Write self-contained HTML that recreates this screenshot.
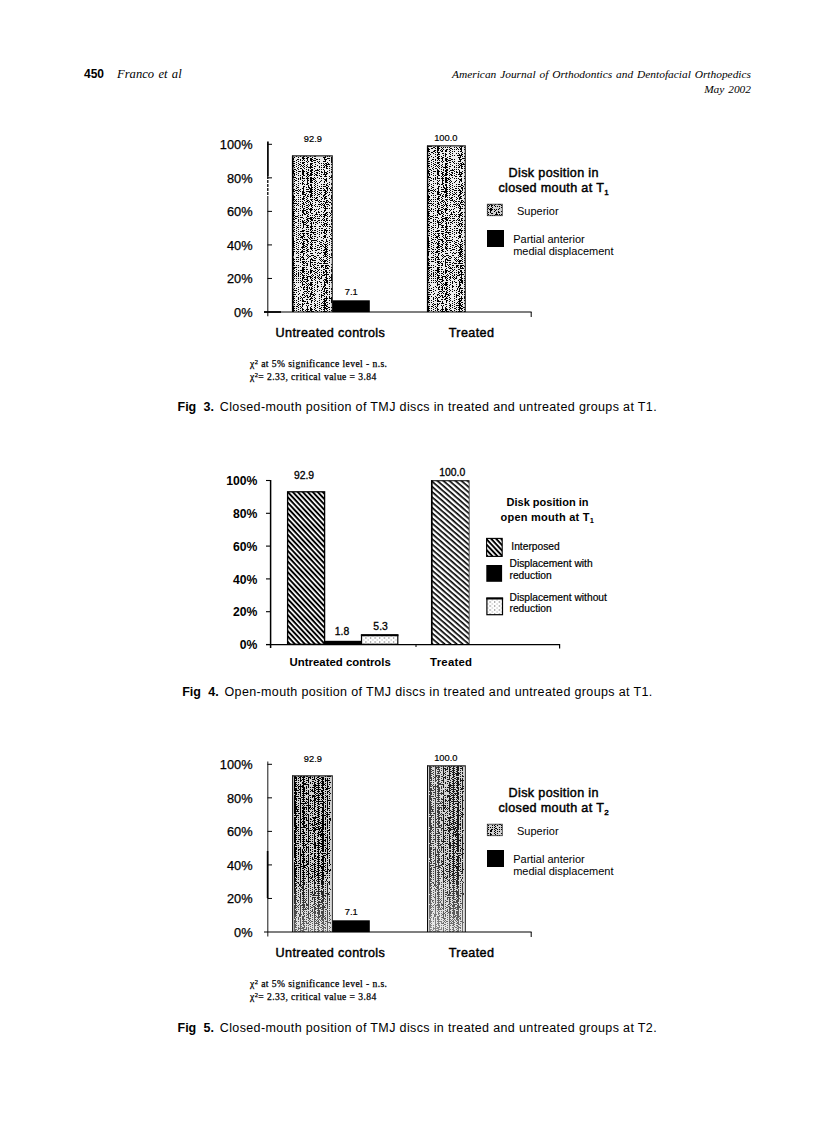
<!DOCTYPE html>
<html><head><meta charset="utf-8"><title>page 450</title>
<style>
html,body{margin:0;padding:0;background:#fff;}
body{width:836px;height:1122px;position:relative;overflow:hidden;font-family:"Liberation Sans",sans-serif;color:#000;}
.t{position:absolute;white-space:nowrap;line-height:16px;}
.hd{font-family:"Liberation Serif",serif;font-style:italic;font-size:11.4px;word-spacing:1.0px;}
.cap{font-size:12.5px;letter-spacing:0.36px;word-spacing:0px;}
.cap b{font-weight:bold;letter-spacing:0;word-spacing:3.8px;margin-right:5.9px;}
svg{position:absolute;left:0;top:0;}
svg text{font-family:"Liberation Sans",sans-serif;fill:#000;}
.ax{font-size:12.8px;stroke:#000;stroke-width:0.25px;}
.val{font-size:9.3px;stroke:#000;stroke-width:0.2px;}
.cat{font-size:12.6px;letter-spacing:0.37px;stroke:#000;stroke-width:0.45px;}
.lt{font-size:12.6px;letter-spacing:0.35px;stroke:#000;stroke-width:0.45px;}
.li{font-size:11px;}
.fn{font-family:"Liberation Serif",serif;font-size:9.6px;letter-spacing:0.42px;stroke:#000;stroke-width:0.25px;}
.ax2{font-size:12.2px;font-weight:bold;}
.val2{font-size:10.4px;stroke:#000;stroke-width:0.3px;}
.cat2{font-size:11.4px;font-weight:bold;}
.lt2{font-size:11px;font-weight:bold;}
.li2{font-size:10.25px;stroke:#000;stroke-width:0.2px;}
</style></head>
<body>
<div class="t" style="left:84px;top:66px;font-weight:bold;font-size:12px;">450</div>
<div class="t hd" style="left:117px;top:66px;font-size:12.6px;word-spacing:1.2px;">Franco et al</div>
<div class="t hd" style="right:85px;top:66px;">American Journal of Orthodontics and Dentofacial Orthopedics</div>
<div class="t hd" style="right:85px;top:81px;">May 2002</div>

<svg width="836" height="1122" viewBox="0 0 836 1122">
<defs>
<pattern id="hatch" width="3.65" height="3.65" patternUnits="userSpaceOnUse" patternTransform="rotate(47)">
<rect x="0" y="0" width="3.65" height="1.95" fill="#000"/>
</pattern>
<pattern id="hatch2" width="3.95" height="3.95" patternUnits="userSpaceOnUse" patternTransform="rotate(41)">
<rect x="0" y="0" width="3.95" height="1.65" fill="#000"/>
</pattern>
<pattern id="dots" x="1" y="0.5" width="4.6" height="4" patternUnits="userSpaceOnUse">
<rect x="1" y="1" width="1.1" height="1" fill="#444"/><rect x="3.3" y="3" width="1" height="1" fill="#999"/>
</pattern>
<pattern id="st3" width="45" height="170" patternUnits="userSpaceOnUse"><rect width="45" height="170" fill="#000" fill-opacity="0.07"/><path d="M0.5 0v1M0.5 4v1M0.5 8v1M0.5 10v1M0.5 12v1M0.5 14v1M0.5 16v1M0.5 18v1M0.5 20v1M0.5 22v1M0.5 24v1M0.5 28v1M0.5 30v1M0.5 32v1M0.5 34v1M0.5 36v1M0.5 40v1M0.5 44v1M0.5 46v1M0.5 48v1M0.5 50v1M0.5 52v1M0.5 54v1M0.5 56v1M0.5 58v1M0.5 60v1M0.5 62v1M0.5 64v1M0.5 66v1M0.5 70v1M0.5 72v1M0.5 74v1M0.5 76v1M0.5 78v1M0.5 80v1M0.5 82v1M0.5 86v1M0.5 88v1M0.5 90v1M0.5 92v1M0.5 94v1M0.5 97v2M0.5 100v1M0.5 102v1M0.5 104v1M0.5 106v3M0.5 110v1M0.5 112v1M0.5 114v1M0.5 120v1M0.5 124v1M0.5 128v1M0.5 130v1M0.5 134v3M0.5 138v1M0.5 140v1M0.5 144v1M0.5 146v1M0.5 148v1M0.5 150v1M0.5 152v1M0.5 154v1M0.5 156v1M0.5 158v1M0.5 160v1M0.5 162v1M0.5 164v1M0.5 166v1M1.5 0v1M1.5 2v1M1.5 4v2M1.5 11v1M1.5 27v2M1.5 30v1M1.5 39v1M1.5 42v3M1.5 52v1M1.5 70v1M1.5 80v1M1.5 87v1M1.5 98v1M1.5 102v1M1.5 140v1M1.5 148v1M1.5 159v1M2.5 0v1M2.5 2v2M2.5 5v1M2.5 7v1M2.5 13v1M2.5 15v1M2.5 17v1M2.5 19v1M2.5 21v1M2.5 23v1M2.5 25v1M2.5 27v1M2.5 29v2M2.5 36v1M2.5 44v1M2.5 46v1M2.5 48v1M2.5 51v1M2.5 53v1M2.5 59v1M2.5 61v1M2.5 63v1M2.5 67v1M2.5 69v1M2.5 71v1M2.5 75v1M2.5 77v1M2.5 79v1M2.5 83v1M2.5 85v1M2.5 93v1M2.5 95v1M2.5 97v1M2.5 99v1M2.5 101v1M2.5 103v1M2.5 105v1M2.5 107v1M2.5 111v3M2.5 115v3M2.5 119v1M2.5 121v1M2.5 131v1M2.5 133v1M2.5 135v1M2.5 137v1M2.5 141v1M2.5 143v1M2.5 145v1M2.5 149v1M2.5 151v1M2.5 153v1M2.5 155v1M2.5 159v1M2.5 161v1M2.5 165v1M2.5 169v1M3.5 0v1M3.5 19v1M3.5 24v1M3.5 31v1M3.5 34v1M3.5 39v1M3.5 41v2M3.5 48v1M3.5 50v1M3.5 75v1M3.5 79v1M3.5 82v1M3.5 85v1M3.5 92v1M3.5 95v1M3.5 100v1M3.5 106v1M3.5 108v1M3.5 116v1M3.5 162v1M4.5 1v1M4.5 3v1M4.5 5v1M4.5 8v1M4.5 12v1M4.5 16v1M4.5 20v1M4.5 22v1M4.5 24v1M4.5 26v1M4.5 30v1M4.5 32v1M4.5 34v1M4.5 36v1M4.5 38v1M4.5 42v1M4.5 44v1M4.5 46v1M4.5 48v1M4.5 50v1M4.5 52v1M4.5 56v1M4.5 58v1M4.5 60v1M4.5 62v1M4.5 64v1M4.5 66v1M4.5 71v1M4.5 73v1M4.5 77v1M4.5 79v1M4.5 83v1M4.5 87v1M4.5 89v1M4.5 93v1M4.5 97v1M4.5 99v1M4.5 102v1M4.5 104v2M4.5 107v1M4.5 109v1M4.5 111v1M4.5 120v1M4.5 124v1M4.5 126v1M4.5 128v1M4.5 130v1M4.5 132v1M4.5 134v1M4.5 136v1M4.5 138v1M4.5 140v1M4.5 142v1M4.5 144v1M4.5 147v1M4.5 149v1M4.5 151v1M4.5 155v1M4.5 159v1M4.5 161v1M4.5 163v1M4.5 166v2M4.5 169v1M5.5 6v1M5.5 11v1M5.5 18v1M5.5 20v1M5.5 23v1M5.5 31v1M5.5 34v1M5.5 45v1M5.5 56v1M5.5 72v1M5.5 74v1M5.5 76v1M5.5 83v1M5.5 88v1M5.5 90v1M5.5 93v1M5.5 108v1M5.5 112v1M5.5 138v1M5.5 144v1M6.5 1v2M6.5 4v1M6.5 6v1M6.5 8v1M6.5 10v1M6.5 14v1M6.5 16v1M6.5 18v1M6.5 20v1M6.5 22v1M6.5 24v1M6.5 27v1M6.5 29v1M6.5 31v1M6.5 33v1M6.5 35v1M6.5 37v1M6.5 41v1M6.5 44v1M6.5 46v1M6.5 50v1M6.5 52v1M6.5 54v1M6.5 58v1M6.5 60v1M6.5 62v2M6.5 67v1M6.5 70v1M6.5 72v1M6.5 74v1M6.5 76v1M6.5 78v1M6.5 80v1M6.5 82v1M6.5 87v1M6.5 89v1M6.5 91v1M6.5 93v1M6.5 95v3M6.5 100v1M6.5 102v1M6.5 104v1M6.5 106v3M6.5 112v1M6.5 114v1M6.5 116v1M6.5 120v1M6.5 122v1M6.5 124v4M6.5 129v1M6.5 133v1M6.5 135v1M6.5 137v1M6.5 139v1M6.5 141v1M6.5 143v1M6.5 145v1M6.5 147v1M6.5 149v1M6.5 153v1M6.5 163v1M6.5 165v1M6.5 167v1M6.5 169v1M7.5 2v1M7.5 28v1M7.5 34v1M7.5 49v1M7.5 55v1M7.5 58v1M7.5 60v1M7.5 70v1M7.5 75v1M7.5 90v1M7.5 95v2M7.5 105v1M7.5 118v2M7.5 125v1M7.5 132v1M7.5 135v1M7.5 143v1M7.5 148v1M7.5 155v1M8.5 4v1M8.5 8v1M8.5 14v1M8.5 16v1M8.5 18v1M8.5 20v1M8.5 25v2M8.5 31v1M8.5 33v1M8.5 35v1M8.5 37v1M8.5 42v1M8.5 44v1M8.5 46v1M8.5 48v1M8.5 50v1M8.5 52v1M8.5 54v1M8.5 56v1M8.5 62v1M8.5 66v1M8.5 68v1M8.5 71v1M8.5 73v1M8.5 76v1M8.5 80v1M8.5 82v1M8.5 85v1M8.5 87v1M8.5 89v1M8.5 91v1M8.5 93v1M8.5 95v1M8.5 97v1M8.5 99v1M8.5 101v3M8.5 105v1M8.5 110v1M8.5 116v2M8.5 121v1M8.5 123v1M8.5 125v1M8.5 129v1M8.5 131v1M8.5 133v1M8.5 135v1M8.5 137v1M8.5 139v1M8.5 141v1M8.5 145v1M8.5 149v1M8.5 151v1M8.5 153v1M8.5 155v1M8.5 157v1M8.5 161v1M8.5 163v1M8.5 165v1M8.5 167v1M8.5 169v1M9.5 0v5M9.5 6v1M9.5 9v1M9.5 11v2M9.5 14v1M9.5 16v1M9.5 19v2M9.5 22v1M9.5 24v2M9.5 27v3M9.5 31v1M9.5 34v3M9.5 38v1M9.5 40v2M9.5 44v4M9.5 49v2M9.5 53v3M9.5 59v5M9.5 65v3M9.5 74v1M9.5 77v1M9.5 79v2M9.5 82v3M9.5 86v1M9.5 90v4M9.5 99v1M9.5 102v1M9.5 104v2M9.5 109v1M9.5 111v6M9.5 118v4M9.5 123v2M9.5 126v1M9.5 128v15M9.5 144v1M9.5 147v1M9.5 154v2M9.5 157v3M9.5 161v1M9.5 164v1M9.5 166v2M10.5 2v1M10.5 4v3M10.5 9v2M10.5 16v1M10.5 20v5M10.5 26v3M10.5 32v2M10.5 36v5M10.5 43v3M10.5 51v1M10.5 53v1M10.5 56v1M10.5 59v2M10.5 63v1M10.5 65v3M10.5 72v1M10.5 74v6M10.5 81v6M10.5 90v2M10.5 93v1M10.5 95v4M10.5 100v2M10.5 104v1M10.5 107v1M10.5 109v2M10.5 112v1M10.5 114v2M10.5 117v2M10.5 122v1M10.5 128v1M10.5 130v2M10.5 133v3M10.5 137v2M10.5 141v3M10.5 146v1M10.5 148v2M10.5 151v1M10.5 155v3M10.5 159v3M10.5 163v1M10.5 165v1M11.5 2v3M11.5 6v1M11.5 8v4M11.5 14v2M11.5 17v2M11.5 21v1M11.5 23v1M11.5 26v1M11.5 28v1M11.5 30v3M11.5 34v1M11.5 38v1M11.5 42v2M11.5 45v1M11.5 48v3M11.5 53v3M11.5 58v1M11.5 60v3M11.5 64v1M11.5 69v3M11.5 74v1M11.5 76v1M11.5 78v5M11.5 84v1M11.5 86v1M11.5 88v1M11.5 90v1M11.5 93v1M11.5 95v2M11.5 98v1M11.5 100v13M11.5 118v1M11.5 120v4M11.5 126v5M11.5 132v1M11.5 135v2M11.5 138v2M11.5 141v2M11.5 144v1M11.5 146v6M11.5 153v3M11.5 159v1M11.5 163v6M12.5 1v1M12.5 3v1M12.5 13v1M12.5 15v1M12.5 17v4M12.5 22v1M12.5 30v1M12.5 32v1M12.5 34v1M12.5 36v1M12.5 38v1M12.5 42v1M12.5 44v1M12.5 46v1M12.5 48v1M12.5 50v1M12.5 52v1M12.5 54v1M12.5 56v1M12.5 60v1M12.5 67v1M12.5 71v1M12.5 73v1M12.5 75v1M12.5 77v1M12.5 79v1M12.5 81v1M12.5 83v1M12.5 85v1M12.5 87v1M12.5 89v1M12.5 91v1M12.5 93v1M12.5 95v1M12.5 97v2M12.5 102v1M12.5 104v1M12.5 108v1M12.5 110v4M12.5 118v1M12.5 120v1M12.5 122v1M12.5 124v1M12.5 128v1M12.5 132v1M12.5 134v1M12.5 136v1M12.5 138v1M12.5 140v1M12.5 142v1M12.5 144v1M12.5 146v1M12.5 152v1M12.5 154v1M12.5 156v1M12.5 158v1M12.5 162v1M12.5 164v1M12.5 166v1M12.5 168v1M13.5 16v1M13.5 25v1M13.5 31v1M13.5 34v1M13.5 95v1M13.5 98v1M13.5 104v1M13.5 137v1M13.5 142v1M13.5 158v1M13.5 163v2M14.5 0v1M14.5 2v1M14.5 6v1M14.5 8v1M14.5 12v1M14.5 14v1M14.5 18v1M14.5 22v1M14.5 24v1M14.5 28v1M14.5 32v1M14.5 35v1M14.5 38v1M14.5 42v1M14.5 46v1M14.5 50v1M14.5 54v1M14.5 56v1M14.5 58v1M14.5 60v1M14.5 62v1M14.5 66v1M14.5 70v1M14.5 72v1M14.5 74v1M14.5 80v1M14.5 84v1M14.5 86v1M14.5 88v1M14.5 90v1M14.5 92v1M14.5 96v1M14.5 100v1M14.5 102v1M14.5 106v1M14.5 108v1M14.5 110v1M14.5 112v1M14.5 114v1M14.5 116v1M14.5 118v1M14.5 121v2M14.5 124v1M14.5 126v3M14.5 130v1M14.5 133v1M14.5 137v1M14.5 139v1M14.5 141v1M14.5 143v1M14.5 145v1M14.5 147v1M14.5 149v1M14.5 153v1M14.5 156v1M14.5 158v1M14.5 160v1M14.5 164v1M14.5 166v1M14.5 168v1M15.5 7v1M15.5 19v2M15.5 29v1M15.5 32v1M15.5 43v1M15.5 45v1M15.5 56v1M15.5 64v1M15.5 68v1M15.5 87v1M15.5 107v1M15.5 110v1M15.5 128v1M15.5 144v1M15.5 152v1M15.5 154v1M16.5 1v2M16.5 5v3M16.5 9v1M16.5 13v2M16.5 17v2M16.5 20v1M16.5 22v1M16.5 25v4M16.5 30v1M16.5 33v2M16.5 37v2M16.5 40v3M16.5 44v1M16.5 47v1M16.5 49v3M16.5 53v2M16.5 57v1M16.5 59v3M16.5 63v1M16.5 65v1M16.5 68v2M16.5 71v1M16.5 73v1M16.5 75v1M16.5 77v1M16.5 79v2M16.5 83v3M16.5 87v1M16.5 94v1M16.5 97v1M16.5 99v3M16.5 104v7M16.5 112v1M16.5 118v2M16.5 121v1M16.5 123v1M16.5 127v6M16.5 137v1M16.5 140v1M16.5 142v2M16.5 149v3M16.5 153v3M16.5 157v6M16.5 164v1M16.5 167v1M16.5 169v1M17.5 2v1M17.5 5v1M17.5 31v1M17.5 35v1M17.5 41v1M17.5 67v2M17.5 78v1M17.5 107v1M17.5 121v1M17.5 134v1M17.5 149v1M17.5 154v3M17.5 159v1M18.5 1v1M18.5 3v1M18.5 8v1M18.5 10v1M18.5 12v1M18.5 14v1M18.5 16v2M18.5 19v1M18.5 21v1M18.5 23v1M18.5 25v1M18.5 27v1M18.5 29v1M18.5 33v1M18.5 37v1M18.5 39v1M18.5 41v1M18.5 45v1M18.5 47v1M18.5 49v1M18.5 51v1M18.5 53v1M18.5 55v1M18.5 57v1M18.5 61v1M18.5 63v1M18.5 66v1M18.5 68v1M18.5 70v1M18.5 72v1M18.5 74v1M18.5 76v1M18.5 78v1M18.5 80v1M18.5 82v1M18.5 84v1M18.5 86v1M18.5 88v1M18.5 90v1M18.5 92v1M18.5 94v1M18.5 98v1M18.5 100v1M18.5 102v1M18.5 104v1M18.5 106v1M18.5 108v1M18.5 110v1M18.5 112v1M18.5 116v1M18.5 118v1M18.5 122v1M18.5 124v1M18.5 126v1M18.5 128v1M18.5 130v1M18.5 135v1M18.5 137v1M18.5 139v1M18.5 141v1M18.5 143v1M18.5 145v1M18.5 149v1M18.5 151v1M18.5 153v1M18.5 157v1M18.5 159v1M18.5 161v1M18.5 163v1M18.5 165v1M18.5 167v1M18.5 169v1M19.5 10v1M19.5 32v1M19.5 36v1M19.5 39v1M19.5 53v1M19.5 89v1M19.5 104v1M19.5 138v1M19.5 163v1M20.5 0v2M20.5 5v1M20.5 9v1M20.5 16v1M20.5 18v1M20.5 20v1M20.5 22v1M20.5 24v1M20.5 26v1M20.5 30v1M20.5 32v1M20.5 34v3M20.5 38v1M20.5 40v1M20.5 42v1M20.5 44v1M20.5 48v1M20.5 51v1M20.5 57v1M20.5 59v1M20.5 62v2M20.5 68v1M20.5 70v1M20.5 72v1M20.5 74v1M20.5 82v1M20.5 85v1M20.5 87v1M20.5 89v2M20.5 94v1M20.5 96v1M20.5 100v1M20.5 102v1M20.5 104v1M20.5 106v1M20.5 110v1M20.5 112v1M20.5 114v1M20.5 118v1M20.5 120v1M20.5 122v1M20.5 124v1M20.5 126v1M20.5 128v2M20.5 131v1M20.5 133v1M20.5 135v1M20.5 140v1M20.5 142v1M20.5 146v1M20.5 148v1M20.5 151v2M20.5 155v1M20.5 162v3M20.5 168v1M21.5 7v1M21.5 10v1M21.5 14v1M21.5 28v1M21.5 44v1M21.5 79v1M21.5 89v1M21.5 93v1M21.5 98v1M21.5 121v1M21.5 130v1M21.5 139v1M21.5 142v1M21.5 154v1M22.5 1v2M22.5 5v1M22.5 7v1M22.5 11v1M22.5 13v1M22.5 15v1M22.5 19v1M22.5 21v1M22.5 23v1M22.5 25v1M22.5 27v1M22.5 31v1M22.5 33v1M22.5 35v1M22.5 37v1M22.5 39v1M22.5 41v1M22.5 43v1M22.5 45v1M22.5 49v2M22.5 52v1M22.5 54v1M22.5 56v1M22.5 58v1M22.5 62v1M22.5 64v1M22.5 80v1M22.5 84v1M22.5 86v1M22.5 88v1M22.5 90v1M22.5 94v1M22.5 100v1M22.5 102v1M22.5 104v1M22.5 108v1M22.5 110v1M22.5 112v1M22.5 114v1M22.5 116v2M22.5 119v1M22.5 121v1M22.5 125v1M22.5 129v1M22.5 131v1M22.5 133v1M22.5 135v1M22.5 137v1M22.5 139v1M22.5 141v1M22.5 145v1M22.5 147v1M22.5 149v1M22.5 151v1M22.5 157v1M22.5 163v1M22.5 165v1M23.5 0v4M23.5 6v2M23.5 14v1M23.5 16v1M23.5 19v3M23.5 25v6M23.5 32v2M23.5 36v1M23.5 39v1M23.5 41v6M23.5 48v2M23.5 51v1M23.5 54v2M23.5 57v1M23.5 60v2M23.5 65v1M23.5 67v11M23.5 79v1M23.5 81v5M23.5 88v3M23.5 92v4M23.5 97v3M23.5 101v1M23.5 103v1M23.5 105v1M23.5 107v1M23.5 109v2M23.5 112v1M23.5 119v1M23.5 122v1M23.5 124v1M23.5 126v4M23.5 131v2M23.5 136v6M23.5 143v2M23.5 146v1M23.5 148v4M23.5 155v1M23.5 158v2M23.5 161v1M23.5 163v1M23.5 165v2M24.5 1v1M24.5 3v3M24.5 7v1M24.5 9v1M24.5 11v1M24.5 13v1M24.5 15v1M24.5 19v1M24.5 21v1M24.5 23v1M24.5 26v2M24.5 29v1M24.5 31v1M24.5 33v1M24.5 35v1M24.5 37v1M24.5 39v1M24.5 41v1M24.5 43v1M24.5 45v1M24.5 47v1M24.5 49v1M24.5 51v1M24.5 53v1M24.5 55v1M24.5 57v1M24.5 59v1M24.5 61v1M24.5 63v1M24.5 65v1M24.5 71v1M24.5 73v1M24.5 75v1M24.5 77v1M24.5 79v1M24.5 81v1M24.5 89v1M24.5 91v1M24.5 93v1M24.5 95v1M24.5 97v2M24.5 100v1M24.5 102v1M24.5 104v1M24.5 106v1M24.5 108v1M24.5 112v1M24.5 114v1M24.5 116v1M24.5 118v1M24.5 120v1M24.5 122v1M24.5 124v1M24.5 126v1M24.5 128v1M24.5 130v1M24.5 132v1M24.5 134v1M24.5 136v1M24.5 138v1M24.5 140v1M24.5 144v1M24.5 146v1M24.5 149v1M24.5 151v1M24.5 153v1M24.5 155v1M24.5 157v1M24.5 161v1M24.5 163v1M24.5 165v1M24.5 167v1M24.5 169v1M25.5 7v1M25.5 10v1M25.5 20v1M25.5 30v1M25.5 33v1M25.5 40v1M25.5 46v1M25.5 48v1M25.5 52v1M25.5 97v1M25.5 105v1M25.5 115v1M25.5 120v1M25.5 124v1M25.5 146v1M25.5 154v1M25.5 169v1M26.5 0v1M26.5 2v1M26.5 4v1M26.5 8v1M26.5 10v1M26.5 14v1M26.5 16v1M26.5 18v1M26.5 20v1M26.5 22v1M26.5 25v1M26.5 29v1M26.5 31v1M26.5 33v1M26.5 35v1M26.5 38v2M26.5 41v1M26.5 46v1M26.5 48v1M26.5 52v1M26.5 56v1M26.5 58v1M26.5 60v1M26.5 62v1M26.5 64v1M26.5 66v1M26.5 68v1M26.5 70v1M26.5 72v1M26.5 74v1M26.5 76v1M26.5 78v1M26.5 81v1M26.5 83v1M26.5 87v1M26.5 89v1M26.5 91v1M26.5 95v1M26.5 97v1M26.5 99v1M26.5 101v1M26.5 103v2M26.5 106v1M26.5 108v1M26.5 110v1M26.5 112v1M26.5 118v1M26.5 120v1M26.5 122v1M26.5 126v1M26.5 130v1M26.5 132v1M26.5 136v1M26.5 138v1M26.5 140v1M26.5 144v1M26.5 146v1M26.5 148v1M26.5 152v1M26.5 156v1M26.5 160v1M26.5 162v1M26.5 164v1M26.5 166v1M27.5 17v1M27.5 20v1M27.5 23v1M27.5 34v1M27.5 46v1M27.5 57v1M27.5 69v1M27.5 72v1M27.5 79v1M27.5 82v1M27.5 87v1M27.5 91v1M27.5 134v1M27.5 136v1M27.5 148v1M27.5 152v1M27.5 159v1M27.5 168v1M28.5 1v1M28.5 3v1M28.5 5v1M28.5 8v2M28.5 11v1M28.5 13v1M28.5 15v1M28.5 17v1M28.5 19v1M28.5 21v1M28.5 23v1M28.5 25v1M28.5 27v1M28.5 29v1M28.5 31v1M28.5 33v1M28.5 35v1M28.5 39v1M28.5 41v1M28.5 43v1M28.5 45v1M28.5 47v1M28.5 49v3M28.5 53v1M28.5 55v1M28.5 57v1M28.5 59v1M28.5 61v1M28.5 63v1M28.5 65v1M28.5 67v1M28.5 69v1M28.5 73v1M28.5 75v1M28.5 77v1M28.5 79v1M28.5 81v1M28.5 83v1M28.5 85v1M28.5 87v1M28.5 89v1M28.5 91v1M28.5 95v1M28.5 97v1M28.5 100v1M28.5 102v5M28.5 108v1M28.5 110v1M28.5 112v1M28.5 117v1M28.5 119v1M28.5 121v1M28.5 124v1M28.5 127v3M28.5 131v1M28.5 133v1M28.5 135v1M28.5 137v1M28.5 139v1M28.5 141v1M28.5 143v1M28.5 145v1M28.5 147v1M28.5 151v1M28.5 153v1M28.5 157v1M28.5 159v1M28.5 161v1M28.5 163v1M28.5 165v1M28.5 167v1M28.5 169v1M29.5 1v1M29.5 20v1M29.5 64v1M29.5 71v1M29.5 123v1M29.5 134v1M29.5 145v1M29.5 147v1M29.5 150v2M29.5 164v1M30.5 1v1M30.5 5v1M30.5 7v3M30.5 13v1M30.5 19v1M30.5 21v1M30.5 25v1M30.5 27v1M30.5 29v1M30.5 31v1M30.5 34v1M30.5 36v1M30.5 38v1M30.5 40v1M30.5 45v1M30.5 47v1M30.5 49v1M30.5 51v1M30.5 53v1M30.5 55v1M30.5 57v1M30.5 61v1M30.5 63v1M30.5 65v1M30.5 67v1M30.5 69v1M30.5 73v1M30.5 79v1M30.5 82v1M30.5 84v1M30.5 86v1M30.5 88v3M30.5 92v1M30.5 96v1M30.5 100v1M30.5 102v1M30.5 104v1M30.5 106v1M30.5 108v1M30.5 110v1M30.5 112v1M30.5 116v1M30.5 120v1M30.5 126v1M30.5 128v1M30.5 130v1M30.5 134v1M30.5 136v1M30.5 138v1M30.5 140v1M30.5 146v1M30.5 148v1M30.5 150v1M30.5 152v1M30.5 154v1M30.5 156v1M30.5 159v2M30.5 162v1M30.5 164v1M30.5 166v1M30.5 168v1M31.5 47v1M31.5 61v1M31.5 66v2M31.5 72v1M31.5 77v1M31.5 81v2M31.5 87v1M31.5 100v1M31.5 103v1M31.5 111v1M31.5 117v1M31.5 127v1M31.5 137v1M31.5 145v1M31.5 165v1M31.5 168v1M32.5 0v5M32.5 6v3M32.5 10v1M32.5 12v3M32.5 18v1M32.5 21v4M32.5 28v2M32.5 31v1M32.5 33v1M32.5 35v3M32.5 40v3M32.5 44v2M32.5 47v1M32.5 50v3M32.5 58v1M32.5 60v2M32.5 63v1M32.5 66v3M32.5 70v1M32.5 73v2M32.5 76v3M32.5 80v3M32.5 86v2M32.5 89v1M32.5 91v2M32.5 94v1M32.5 97v6M32.5 104v2M32.5 107v4M32.5 112v4M32.5 124v2M32.5 128v4M32.5 133v4M32.5 138v3M32.5 144v9M32.5 154v2M32.5 157v2M32.5 160v1M32.5 162v2M32.5 166v1M32.5 169v1M33.5 0v6M33.5 8v1M33.5 11v1M33.5 13v1M33.5 16v9M33.5 26v4M33.5 32v3M33.5 38v6M33.5 48v1M33.5 51v7M33.5 60v2M33.5 63v4M33.5 69v1M33.5 71v7M33.5 79v1M33.5 81v1M33.5 83v3M33.5 87v3M33.5 91v3M33.5 95v1M33.5 97v6M33.5 105v4M33.5 111v1M33.5 114v1M33.5 117v3M33.5 122v1M33.5 124v1M33.5 127v1M33.5 130v2M33.5 134v1M33.5 139v1M33.5 141v2M33.5 144v1M33.5 146v5M33.5 152v3M33.5 156v4M33.5 162v2M33.5 165v1M33.5 167v1M34.5 1v1M34.5 5v1M34.5 8v1M34.5 10v1M34.5 14v1M34.5 16v1M34.5 22v1M34.5 24v1M34.5 26v1M34.5 28v1M34.5 30v1M34.5 34v1M34.5 36v1M34.5 38v1M34.5 40v1M34.5 43v2M34.5 50v1M34.5 52v1M34.5 54v1M34.5 60v1M34.5 63v1M34.5 65v1M34.5 67v1M34.5 69v1M34.5 71v1M34.5 73v1M34.5 75v1M34.5 77v1M34.5 79v1M34.5 81v1M34.5 83v1M34.5 89v1M34.5 91v1M34.5 93v1M34.5 95v1M34.5 97v1M34.5 99v1M34.5 101v1M34.5 103v1M34.5 105v1M34.5 107v1M34.5 109v1M34.5 111v1M34.5 114v1M34.5 116v2M34.5 119v1M34.5 121v1M34.5 123v1M34.5 125v1M34.5 127v1M34.5 131v1M34.5 133v1M34.5 142v1M34.5 144v1M34.5 146v1M34.5 148v1M34.5 152v1M34.5 154v1M34.5 156v1M34.5 158v1M34.5 160v1M34.5 162v1M34.5 164v1M34.5 166v1M34.5 168v1M35.5 24v2M35.5 32v1M35.5 40v1M35.5 44v1M35.5 52v1M35.5 54v1M35.5 69v1M35.5 76v1M35.5 92v1M35.5 109v1M35.5 112v1M35.5 121v1M35.5 126v1M35.5 131v1M35.5 140v1M35.5 144v1M35.5 150v1M36.5 1v1M36.5 3v1M36.5 6v1M36.5 8v1M36.5 14v1M36.5 17v1M36.5 19v1M36.5 21v1M36.5 23v1M36.5 27v1M36.5 29v1M36.5 31v1M36.5 33v1M36.5 35v1M36.5 37v1M36.5 39v1M36.5 41v3M36.5 47v1M36.5 49v1M36.5 51v1M36.5 53v1M36.5 55v1M36.5 57v1M36.5 59v1M36.5 61v1M36.5 63v1M36.5 69v2M36.5 74v1M36.5 76v1M36.5 78v1M36.5 80v1M36.5 82v1M36.5 85v1M36.5 89v1M36.5 91v1M36.5 93v1M36.5 95v1M36.5 97v1M36.5 99v1M36.5 101v1M36.5 103v1M36.5 105v1M36.5 107v1M36.5 109v1M36.5 111v1M36.5 113v1M36.5 115v1M36.5 117v1M36.5 119v1M36.5 121v1M36.5 123v1M36.5 125v1M36.5 129v1M36.5 133v1M36.5 135v1M36.5 139v1M36.5 141v1M36.5 143v3M36.5 147v1M36.5 149v1M36.5 151v1M36.5 156v1M36.5 158v1M36.5 161v1M36.5 165v1M36.5 167v1M36.5 169v1M37.5 2v4M37.5 7v8M37.5 19v1M37.5 21v1M37.5 25v2M37.5 28v1M37.5 30v2M37.5 35v1M37.5 37v1M37.5 39v1M37.5 41v1M37.5 43v1M37.5 45v2M37.5 48v3M37.5 52v1M37.5 55v3M37.5 61v1M37.5 63v2M37.5 66v1M37.5 69v4M37.5 74v2M37.5 77v1M37.5 79v3M37.5 84v1M37.5 86v1M37.5 88v1M37.5 93v3M37.5 99v1M37.5 103v1M37.5 106v6M37.5 114v1M37.5 116v5M37.5 122v1M37.5 125v3M37.5 129v1M37.5 131v3M37.5 136v6M37.5 144v1M37.5 148v1M37.5 150v2M37.5 153v1M37.5 157v4M37.5 162v1M37.5 164v1M37.5 166v1M38.5 0v1M38.5 2v1M38.5 4v1M38.5 6v1M38.5 8v1M38.5 10v1M38.5 13v1M38.5 15v3M38.5 19v1M38.5 21v1M38.5 24v1M38.5 26v1M38.5 30v1M38.5 32v1M38.5 34v1M38.5 36v1M38.5 38v1M38.5 42v1M38.5 44v1M38.5 46v1M38.5 48v1M38.5 50v2M38.5 55v1M38.5 57v1M38.5 59v1M38.5 61v1M38.5 63v1M38.5 65v1M38.5 67v1M38.5 71v1M38.5 73v1M38.5 79v1M38.5 81v1M38.5 85v1M38.5 87v1M38.5 91v1M38.5 101v2M38.5 104v1M38.5 106v1M38.5 110v1M38.5 113v1M38.5 115v1M38.5 121v1M38.5 123v1M38.5 127v1M38.5 133v1M38.5 135v1M38.5 139v1M38.5 141v1M38.5 143v1M38.5 145v1M38.5 147v1M38.5 149v1M38.5 153v1M38.5 155v1M38.5 157v1M38.5 161v1M38.5 167v1M38.5 169v1M39.5 5v1M39.5 17v2M39.5 21v2M39.5 31v1M39.5 35v1M39.5 39v1M39.5 48v1M39.5 68v1M39.5 86v1M39.5 106v1M39.5 114v1M39.5 117v2M39.5 121v1M39.5 126v1M39.5 129v1M39.5 141v1M39.5 167v1M40.5 0v2M40.5 3v3M40.5 7v6M40.5 14v2M40.5 18v5M40.5 24v4M40.5 29v1M40.5 32v3M40.5 38v5M40.5 45v1M40.5 47v3M40.5 51v1M40.5 53v1M40.5 56v2M40.5 59v2M40.5 62v1M40.5 64v4M40.5 69v1M40.5 72v1M40.5 74v1M40.5 76v3M40.5 81v1M40.5 83v1M40.5 86v1M40.5 89v8M40.5 99v5M40.5 106v3M40.5 112v4M40.5 119v1M40.5 123v4M40.5 128v2M40.5 134v1M40.5 137v4M40.5 143v1M40.5 147v1M40.5 150v2M40.5 153v4M40.5 158v3M40.5 163v6M41.5 0v6M41.5 7v6M41.5 14v13M41.5 29v2M41.5 34v3M41.5 38v3M41.5 43v1M41.5 47v4M41.5 52v8M41.5 61v2M41.5 64v1M41.5 67v2M41.5 70v2M41.5 73v3M41.5 77v3M41.5 83v1M41.5 85v1M41.5 88v2M41.5 92v1M41.5 96v1M41.5 98v1M41.5 100v3M41.5 105v1M41.5 107v1M41.5 109v2M41.5 112v4M41.5 117v3M41.5 121v4M41.5 127v2M41.5 130v3M41.5 134v1M41.5 136v1M41.5 138v6M41.5 149v3M41.5 154v1M41.5 158v4M41.5 163v2M41.5 166v2M41.5 169v1M42.5 0v1M42.5 2v1M42.5 4v1M42.5 8v1M42.5 10v1M42.5 12v1M42.5 17v1M42.5 19v1M42.5 21v1M42.5 23v1M42.5 25v1M42.5 27v1M42.5 29v1M42.5 31v1M42.5 33v1M42.5 35v1M42.5 37v1M42.5 39v1M42.5 43v1M42.5 45v1M42.5 47v1M42.5 49v2M42.5 56v1M42.5 58v1M42.5 60v1M42.5 62v1M42.5 66v1M42.5 68v1M42.5 70v1M42.5 72v1M42.5 74v1M42.5 76v1M42.5 78v1M42.5 80v1M42.5 83v1M42.5 85v1M42.5 89v2M42.5 92v1M42.5 94v1M42.5 100v1M42.5 104v1M42.5 106v1M42.5 108v1M42.5 110v1M42.5 112v1M42.5 114v1M42.5 116v1M42.5 118v1M42.5 120v1M42.5 122v1M42.5 124v1M42.5 126v1M42.5 128v1M42.5 130v1M42.5 139v1M42.5 141v1M42.5 143v1M42.5 145v1M42.5 147v1M42.5 149v1M42.5 157v1M42.5 159v1M42.5 161v1M42.5 163v1M42.5 165v1M42.5 167v1M42.5 169v1M43.5 8v2M43.5 48v1M43.5 52v2M43.5 62v2M43.5 70v1M43.5 85v1M43.5 87v1M43.5 90v1M43.5 95v1M43.5 97v1M43.5 101v1M43.5 105v1M43.5 124v2M43.5 141v1M43.5 143v1M43.5 160v1M44.5 1v1M44.5 3v1M44.5 5v1M44.5 7v1M44.5 9v1M44.5 11v1M44.5 13v1M44.5 15v1M44.5 17v1M44.5 19v1M44.5 21v1M44.5 23v1M44.5 25v1M44.5 27v1M44.5 29v1M44.5 35v1M44.5 39v1M44.5 41v1M44.5 45v1M44.5 47v1M44.5 50v1M44.5 56v1M44.5 60v1M44.5 62v1M44.5 64v1M44.5 66v1M44.5 68v1M44.5 70v1M44.5 72v1M44.5 78v1M44.5 86v1M44.5 88v1M44.5 90v1M44.5 92v1M44.5 94v1M44.5 96v1M44.5 98v1M44.5 101v1M44.5 103v1M44.5 107v1M44.5 109v1M44.5 115v1M44.5 117v1M44.5 119v1M44.5 121v1M44.5 123v1M44.5 125v1M44.5 127v1M44.5 129v1M44.5 131v1M44.5 133v1M44.5 135v1M44.5 137v1M44.5 139v1M44.5 143v1M44.5 145v1M44.5 147v1M44.5 149v1M44.5 151v1M44.5 153v1M44.5 156v1M44.5 158v1M44.5 160v1M44.5 162v1M44.5 166v1M44.5 168v1" stroke="#000" stroke-width="1" fill="none" shape-rendering="crispEdges"/></pattern>
<pattern id="st5" width="45" height="170" patternUnits="userSpaceOnUse"><rect width="45" height="170" fill="#000" fill-opacity="0.19"/><path d="M0.5 0v2M0.5 3v1M0.5 5v2M0.5 8v1M0.5 10v1M0.5 12v1M0.5 14v1M0.5 16v1M0.5 18v1M0.5 20v1M0.5 22v1M0.5 24v1M0.5 26v1M0.5 28v1M0.5 32v2M0.5 37v1M0.5 39v1M0.5 42v2M0.5 45v1M0.5 47v1M0.5 49v1M0.5 51v1M0.5 53v1M0.5 55v1M0.5 57v3M0.5 61v3M0.5 65v1M0.5 67v1M0.5 69v1M0.5 71v1M0.5 73v1M0.5 75v1M0.5 79v1M0.5 81v1M0.5 83v3M0.5 87v1M0.5 89v1M0.5 91v1M0.5 93v1M0.5 95v1M0.5 100v1M0.5 102v1M0.5 104v3M0.5 108v1M0.5 110v1M0.5 112v1M0.5 114v1M0.5 116v1M0.5 118v3M0.5 122v1M0.5 124v1M0.5 126v1M0.5 130v1M0.5 132v1M0.5 134v1M0.5 136v3M0.5 140v1M0.5 142v1M0.5 144v1M0.5 146v1M0.5 148v3M0.5 153v1M0.5 156v1M0.5 158v1M0.5 162v7M1.5 8v1M1.5 21v1M1.5 25v1M1.5 30v1M1.5 39v1M1.5 41v1M1.5 45v1M1.5 54v1M1.5 58v1M1.5 66v1M1.5 70v1M1.5 72v2M1.5 86v1M1.5 91v1M1.5 98v1M1.5 105v1M1.5 107v1M1.5 109v1M1.5 113v1M1.5 115v1M1.5 118v1M1.5 121v1M1.5 131v1M1.5 137v1M1.5 143v2M1.5 147v1M1.5 149v1M1.5 165v1M2.5 1v1M2.5 3v1M2.5 6v2M2.5 9v1M2.5 11v1M2.5 13v1M2.5 15v1M2.5 17v1M2.5 19v1M2.5 21v1M2.5 23v3M2.5 27v1M2.5 29v1M2.5 31v1M2.5 33v1M2.5 35v1M2.5 37v1M2.5 41v1M2.5 43v1M2.5 45v1M2.5 47v2M2.5 50v1M2.5 52v1M2.5 55v2M2.5 58v1M2.5 60v1M2.5 62v2M2.5 67v1M2.5 69v1M2.5 71v1M2.5 73v1M2.5 75v1M2.5 77v1M2.5 79v1M2.5 81v1M2.5 83v1M2.5 85v1M2.5 88v1M2.5 90v1M2.5 92v1M2.5 94v1M2.5 97v1M2.5 99v1M2.5 101v1M2.5 103v1M2.5 105v1M2.5 107v1M2.5 109v1M2.5 111v1M2.5 113v1M2.5 115v1M2.5 117v1M2.5 119v1M2.5 121v1M2.5 123v1M2.5 125v1M2.5 127v1M2.5 129v1M2.5 131v1M2.5 133v1M2.5 135v1M2.5 137v1M2.5 139v1M2.5 141v1M2.5 143v1M2.5 145v1M2.5 147v1M2.5 149v1M2.5 153v1M2.5 155v1M2.5 157v1M2.5 159v1M2.5 161v1M2.5 163v1M2.5 165v1M2.5 167v1M2.5 169v1M3.5 0v34M3.5 35v15M3.5 51v18M3.5 70v6M3.5 77v5M3.5 83v15M3.5 99v14M3.5 114v11M3.5 126v12M3.5 139v6M3.5 146v4M3.5 151v6M3.5 159v11M4.5 3v1M4.5 5v1M4.5 7v1M4.5 9v1M4.5 11v1M4.5 13v1M4.5 15v1M4.5 17v1M4.5 20v1M4.5 23v1M4.5 25v1M4.5 27v1M4.5 29v1M4.5 31v1M4.5 33v1M4.5 35v1M4.5 37v1M4.5 39v1M4.5 41v1M4.5 43v1M4.5 45v1M4.5 47v1M4.5 49v1M4.5 51v2M4.5 54v3M4.5 58v1M4.5 60v5M4.5 66v2M4.5 69v1M4.5 72v1M4.5 74v1M4.5 76v1M4.5 80v1M4.5 82v1M4.5 84v1M4.5 86v1M4.5 88v1M4.5 90v1M4.5 92v1M4.5 94v1M4.5 96v1M4.5 98v1M4.5 100v1M4.5 103v1M4.5 105v1M4.5 107v1M4.5 109v1M4.5 111v1M4.5 113v1M4.5 115v1M4.5 117v1M4.5 119v1M4.5 121v1M4.5 124v1M4.5 126v1M4.5 128v1M4.5 130v1M4.5 132v1M4.5 134v1M4.5 136v1M4.5 138v1M4.5 140v1M4.5 142v1M4.5 144v1M4.5 146v1M4.5 148v3M4.5 152v1M4.5 154v1M4.5 160v1M4.5 162v2M4.5 165v1M4.5 167v1M4.5 169v1M5.5 1v2M5.5 15v2M5.5 22v1M5.5 25v1M5.5 29v1M5.5 41v1M5.5 49v1M5.5 52v1M5.5 54v1M5.5 57v2M5.5 65v2M5.5 70v1M5.5 77v1M5.5 93v1M5.5 98v1M5.5 102v1M5.5 109v1M5.5 113v2M5.5 121v1M5.5 123v1M5.5 127v1M5.5 142v2M5.5 147v2M5.5 151v2M5.5 154v3M5.5 159v1M5.5 163v1M5.5 166v1M6.5 0v1M6.5 3v1M6.5 6v1M6.5 9v2M6.5 12v1M6.5 14v1M6.5 16v3M6.5 20v1M6.5 22v1M6.5 24v1M6.5 26v1M6.5 28v1M6.5 30v5M6.5 36v1M6.5 38v1M6.5 40v5M6.5 46v1M6.5 48v1M6.5 50v3M6.5 54v1M6.5 57v1M6.5 59v1M6.5 61v3M6.5 65v1M6.5 67v3M6.5 71v1M6.5 73v1M6.5 75v1M6.5 77v1M6.5 79v1M6.5 81v1M6.5 83v1M6.5 85v1M6.5 87v1M6.5 89v1M6.5 91v1M6.5 93v3M6.5 97v1M6.5 99v1M6.5 101v1M6.5 103v1M6.5 105v1M6.5 107v1M6.5 110v2M6.5 113v1M6.5 115v1M6.5 117v1M6.5 119v1M6.5 121v1M6.5 123v1M6.5 127v1M6.5 131v1M6.5 133v1M6.5 135v1M6.5 139v1M6.5 141v1M6.5 143v1M6.5 145v1M6.5 147v1M6.5 149v3M6.5 153v3M6.5 157v1M6.5 159v1M6.5 161v1M6.5 163v2M6.5 166v1M6.5 168v1M7.5 0v2M7.5 3v2M7.5 6v6M7.5 13v2M7.5 16v23M7.5 41v7M7.5 49v5M7.5 55v5M7.5 61v10M7.5 72v2M7.5 75v2M7.5 78v1M7.5 80v16M7.5 97v12M7.5 110v9M7.5 120v2M7.5 123v3M7.5 127v6M7.5 134v36M8.5 0v2M8.5 3v1M8.5 5v16M8.5 22v8M8.5 31v4M8.5 36v2M8.5 39v13M8.5 53v15M8.5 69v6M8.5 76v7M8.5 84v7M8.5 92v4M8.5 97v3M8.5 101v5M8.5 107v4M8.5 112v3M8.5 116v4M8.5 121v29M8.5 151v1M8.5 153v17M9.5 3v1M9.5 5v1M9.5 7v1M9.5 13v1M9.5 16v1M9.5 20v1M9.5 25v1M9.5 45v1M9.5 48v1M9.5 56v2M9.5 66v1M9.5 68v1M9.5 74v1M9.5 77v1M9.5 93v1M9.5 104v1M9.5 122v1M9.5 130v1M9.5 135v1M9.5 144v1M9.5 154v1M9.5 160v1M9.5 165v1M10.5 0v2M10.5 3v1M10.5 5v1M10.5 8v4M10.5 13v1M10.5 15v1M10.5 17v1M10.5 19v1M10.5 21v1M10.5 25v1M10.5 27v1M10.5 31v1M10.5 33v1M10.5 35v1M10.5 37v1M10.5 39v1M10.5 41v1M10.5 43v1M10.5 45v2M10.5 49v1M10.5 51v1M10.5 53v1M10.5 55v1M10.5 57v1M10.5 59v1M10.5 61v1M10.5 63v1M10.5 65v1M10.5 67v3M10.5 71v1M10.5 73v1M10.5 75v1M10.5 77v2M10.5 80v1M10.5 84v1M10.5 86v1M10.5 88v1M10.5 90v1M10.5 92v1M10.5 94v1M10.5 96v1M10.5 98v4M10.5 103v1M10.5 105v1M10.5 107v1M10.5 109v1M10.5 111v1M10.5 113v1M10.5 115v1M10.5 117v1M10.5 119v1M10.5 121v1M10.5 123v1M10.5 125v3M10.5 129v1M10.5 131v1M10.5 133v1M10.5 135v1M10.5 137v3M10.5 141v1M10.5 143v3M10.5 147v3M10.5 151v1M10.5 153v1M10.5 155v1M10.5 157v1M10.5 159v3M10.5 163v1M10.5 165v1M10.5 167v1M10.5 169v1M11.5 4v1M11.5 21v1M11.5 23v1M11.5 29v2M11.5 43v1M11.5 53v1M11.5 59v1M11.5 71v1M11.5 86v1M11.5 88v1M11.5 100v1M11.5 108v2M11.5 116v1M11.5 132v1M11.5 134v1M11.5 136v1M11.5 157v1M11.5 168v1M12.5 0v9M12.5 10v1M12.5 12v12M12.5 25v1M12.5 27v2M12.5 31v1M12.5 33v26M12.5 60v26M12.5 87v4M12.5 92v2M12.5 95v2M12.5 98v12M12.5 111v3M12.5 115v16M12.5 132v6M12.5 139v10M12.5 150v3M12.5 154v16M13.5 3v1M13.5 19v1M13.5 32v1M13.5 43v2M13.5 72v1M13.5 82v1M13.5 96v1M13.5 100v1M13.5 106v1M13.5 108v1M13.5 111v1M13.5 120v1M13.5 128v1M13.5 134v1M13.5 150v1M13.5 163v1M13.5 169v1M14.5 1v1M14.5 3v1M14.5 5v1M14.5 7v1M14.5 9v5M14.5 15v1M14.5 20v2M14.5 23v1M14.5 25v1M14.5 27v1M14.5 31v4M14.5 38v1M14.5 42v1M14.5 44v1M14.5 46v1M14.5 48v3M14.5 52v1M14.5 54v1M14.5 56v1M14.5 58v1M14.5 60v1M14.5 62v3M14.5 66v1M14.5 68v1M14.5 70v1M14.5 72v1M14.5 76v1M14.5 78v1M14.5 80v1M14.5 82v1M14.5 84v1M14.5 86v1M14.5 88v1M14.5 90v1M14.5 92v1M14.5 94v1M14.5 96v1M14.5 98v1M14.5 100v1M14.5 102v1M14.5 104v1M14.5 108v1M14.5 110v1M14.5 112v1M14.5 114v1M14.5 116v1M14.5 118v1M14.5 120v1M14.5 122v3M14.5 126v1M14.5 128v1M14.5 130v1M14.5 132v1M14.5 134v1M14.5 136v1M14.5 138v2M14.5 141v3M14.5 145v1M14.5 147v1M14.5 149v2M14.5 152v3M14.5 156v3M14.5 160v1M14.5 162v1M14.5 164v1M14.5 166v1M14.5 168v1M15.5 0v1M15.5 14v1M15.5 19v2M15.5 39v1M15.5 65v1M15.5 69v1M15.5 72v2M15.5 77v1M15.5 81v1M15.5 88v2M15.5 96v1M15.5 102v1M15.5 107v1M15.5 113v1M15.5 120v1M15.5 132v1M15.5 138v3M15.5 159v1M16.5 0v6M16.5 7v8M16.5 16v4M16.5 22v7M16.5 31v10M16.5 42v23M16.5 66v3M16.5 70v4M16.5 76v29M16.5 106v16M16.5 123v20M16.5 144v1M16.5 146v14M16.5 161v9M17.5 0v10M17.5 11v7M17.5 19v6M17.5 26v3M17.5 30v1M17.5 32v2M17.5 35v4M17.5 40v12M17.5 53v44M17.5 98v12M17.5 111v25M17.5 137v27M17.5 165v2M17.5 169v1M18.5 1v3M18.5 5v1M18.5 7v1M18.5 9v3M18.5 13v1M18.5 15v1M18.5 17v1M18.5 19v1M18.5 21v1M18.5 23v1M18.5 25v1M18.5 27v1M18.5 29v1M18.5 31v1M18.5 33v1M18.5 37v1M18.5 41v1M18.5 43v1M18.5 45v2M18.5 48v1M18.5 52v1M18.5 54v1M18.5 56v1M18.5 58v1M18.5 60v1M18.5 62v1M18.5 64v1M18.5 66v1M18.5 68v1M18.5 70v1M18.5 72v3M18.5 76v1M18.5 84v1M18.5 86v1M18.5 90v1M18.5 93v2M18.5 96v1M18.5 98v3M18.5 102v3M18.5 106v1M18.5 108v1M18.5 110v1M18.5 112v1M18.5 114v1M18.5 118v1M18.5 120v1M18.5 122v1M18.5 124v1M18.5 126v1M18.5 128v1M18.5 130v1M18.5 132v1M18.5 134v1M18.5 138v1M18.5 140v1M18.5 142v1M18.5 144v1M18.5 146v1M18.5 148v1M18.5 150v3M18.5 155v1M18.5 157v1M18.5 161v1M18.5 163v1M18.5 165v1M18.5 167v1M18.5 169v1M19.5 3v1M19.5 8v1M19.5 17v1M19.5 38v1M19.5 45v1M19.5 63v1M19.5 75v1M19.5 87v1M19.5 92v1M19.5 94v1M19.5 97v1M19.5 103v2M19.5 109v1M19.5 114v1M19.5 127v1M19.5 131v1M19.5 135v1M19.5 137v1M19.5 144v1M19.5 147v2M19.5 157v2M19.5 163v1M20.5 0v5M20.5 7v7M20.5 15v5M20.5 21v18M20.5 41v9M20.5 51v6M20.5 58v13M20.5 72v16M20.5 89v1M20.5 91v1M20.5 93v6M20.5 100v12M20.5 113v4M20.5 118v1M20.5 120v8M20.5 129v7M20.5 137v27M20.5 165v5M21.5 0v1M21.5 16v1M21.5 41v1M21.5 43v1M21.5 46v1M21.5 52v1M21.5 56v1M21.5 60v1M21.5 63v2M21.5 77v1M21.5 89v1M21.5 93v2M21.5 97v1M21.5 101v1M21.5 104v1M21.5 107v1M21.5 109v1M21.5 112v2M21.5 132v1M21.5 139v1M21.5 145v1M21.5 152v2M21.5 155v1M21.5 160v1M21.5 163v1M22.5 0v2M22.5 3v17M22.5 21v10M22.5 32v5M22.5 38v15M22.5 54v3M22.5 58v12M22.5 71v27M22.5 99v5M22.5 105v8M22.5 114v9M22.5 124v9M22.5 134v8M22.5 143v27M23.5 0v5M23.5 7v18M23.5 26v9M23.5 36v12M23.5 49v19M23.5 69v22M23.5 92v1M23.5 94v17M23.5 112v17M23.5 130v3M23.5 134v14M23.5 149v2M23.5 152v7M23.5 160v10M24.5 0v8M24.5 10v1M24.5 12v32M24.5 45v9M24.5 55v14M24.5 70v41M24.5 112v2M24.5 115v19M24.5 135v1M24.5 137v10M24.5 148v1M24.5 150v13M24.5 164v6M25.5 0v12M25.5 13v1M25.5 15v2M25.5 18v9M25.5 28v4M25.5 33v4M25.5 38v21M25.5 60v7M25.5 68v5M25.5 74v4M25.5 79v20M25.5 100v1M25.5 102v5M25.5 108v12M25.5 121v15M25.5 137v16M25.5 154v12M25.5 167v3M26.5 1v1M26.5 3v1M26.5 5v1M26.5 7v1M26.5 9v1M26.5 11v3M26.5 15v1M26.5 17v3M26.5 21v1M26.5 23v1M26.5 25v3M26.5 29v1M26.5 31v1M26.5 33v1M26.5 35v1M26.5 37v2M26.5 41v1M26.5 43v1M26.5 45v1M26.5 47v1M26.5 49v1M26.5 53v1M26.5 55v1M26.5 57v1M26.5 59v1M26.5 61v3M26.5 65v1M26.5 67v1M26.5 71v1M26.5 73v1M26.5 75v1M26.5 77v1M26.5 79v1M26.5 81v1M26.5 83v1M26.5 85v1M26.5 87v1M26.5 89v1M26.5 91v1M26.5 93v1M26.5 95v1M26.5 97v4M26.5 102v1M26.5 104v1M26.5 106v1M26.5 108v3M26.5 112v3M26.5 116v1M26.5 118v3M26.5 122v1M26.5 124v1M26.5 126v4M26.5 131v1M26.5 133v1M26.5 135v3M26.5 139v1M26.5 143v1M26.5 145v5M26.5 151v1M26.5 153v1M26.5 155v1M26.5 157v1M26.5 159v1M26.5 163v1M26.5 165v1M26.5 167v3M27.5 15v1M27.5 32v1M27.5 50v2M27.5 56v1M27.5 61v1M27.5 80v1M27.5 90v1M27.5 93v1M27.5 105v1M27.5 110v1M27.5 116v1M27.5 126v1M27.5 129v3M27.5 135v1M27.5 147v1M27.5 150v1M27.5 161v1M27.5 163v1M28.5 0v1M28.5 2v3M28.5 6v1M28.5 8v1M28.5 11v1M28.5 13v1M28.5 15v1M28.5 17v1M28.5 19v1M28.5 21v1M28.5 23v1M28.5 25v1M28.5 27v1M28.5 29v1M28.5 32v2M28.5 36v1M28.5 40v1M28.5 42v1M28.5 44v1M28.5 46v1M28.5 50v1M28.5 52v1M28.5 55v1M28.5 57v1M28.5 59v1M28.5 63v1M28.5 67v3M28.5 71v1M28.5 75v1M28.5 77v3M28.5 81v1M28.5 83v2M28.5 86v1M28.5 90v1M28.5 92v1M28.5 94v1M28.5 96v1M28.5 98v1M28.5 100v1M28.5 102v1M28.5 104v1M28.5 106v3M28.5 110v1M28.5 112v1M28.5 114v1M28.5 116v1M28.5 118v1M28.5 120v1M28.5 123v1M28.5 125v1M28.5 127v1M28.5 129v1M28.5 131v1M28.5 133v1M28.5 135v1M28.5 137v1M28.5 139v1M28.5 141v2M28.5 144v2M28.5 147v1M28.5 149v1M28.5 151v1M28.5 153v1M28.5 155v1M28.5 157v1M28.5 159v1M28.5 161v1M28.5 163v1M28.5 165v1M28.5 167v1M28.5 169v1M29.5 10v1M29.5 13v1M29.5 17v1M29.5 34v2M29.5 38v1M29.5 47v1M29.5 54v1M29.5 64v3M29.5 78v1M29.5 81v1M29.5 85v1M29.5 97v1M29.5 106v1M29.5 109v1M29.5 112v1M29.5 118v1M29.5 133v1M29.5 155v1M29.5 159v1M29.5 169v1M30.5 0v37M30.5 39v3M30.5 43v11M30.5 55v12M30.5 68v14M30.5 83v2M30.5 86v16M30.5 104v13M30.5 118v45M30.5 164v1M30.5 167v3M31.5 4v2M31.5 14v1M31.5 16v1M31.5 31v1M31.5 35v1M31.5 37v1M31.5 39v1M31.5 55v1M31.5 64v1M31.5 74v1M31.5 76v1M31.5 78v1M31.5 80v1M31.5 87v2M31.5 95v2M31.5 100v1M31.5 106v1M31.5 117v1M31.5 123v1M31.5 139v1M31.5 142v1M31.5 147v1M31.5 153v1M32.5 0v3M32.5 4v1M32.5 6v1M32.5 8v1M32.5 10v3M32.5 16v1M32.5 18v1M32.5 20v1M32.5 22v1M32.5 24v1M32.5 26v1M32.5 28v1M32.5 30v1M32.5 32v1M32.5 34v1M32.5 36v3M32.5 40v1M32.5 42v3M32.5 46v1M32.5 48v1M32.5 50v1M32.5 52v1M32.5 54v2M32.5 57v1M32.5 59v1M32.5 61v1M32.5 66v4M32.5 71v1M32.5 73v1M32.5 77v2M32.5 80v2M32.5 83v3M32.5 87v1M32.5 89v1M32.5 91v1M32.5 93v1M32.5 95v1M32.5 97v1M32.5 99v1M32.5 102v2M32.5 105v3M32.5 109v1M32.5 111v1M32.5 113v1M32.5 115v1M32.5 117v1M32.5 119v1M32.5 121v1M32.5 123v1M32.5 125v1M32.5 127v2M32.5 130v3M32.5 134v1M32.5 136v1M32.5 138v1M32.5 141v1M32.5 143v2M32.5 147v1M32.5 149v1M32.5 151v1M32.5 153v1M32.5 155v1M32.5 157v1M32.5 159v1M32.5 161v1M32.5 163v1M32.5 165v1M32.5 169v1M33.5 1v18M33.5 20v41M33.5 62v3M33.5 66v10M33.5 77v13M33.5 91v3M33.5 95v27M33.5 123v2M33.5 126v22M33.5 149v5M33.5 155v14M34.5 0v1M34.5 2v1M34.5 4v1M34.5 6v1M34.5 8v3M34.5 12v1M34.5 15v3M34.5 19v1M34.5 22v1M34.5 24v1M34.5 26v1M34.5 28v1M34.5 30v1M34.5 32v3M34.5 39v1M34.5 42v1M34.5 44v1M34.5 46v1M34.5 48v1M34.5 50v1M34.5 52v1M34.5 54v4M34.5 59v1M34.5 61v1M34.5 63v1M34.5 65v2M34.5 69v1M34.5 71v1M34.5 73v1M34.5 75v3M34.5 79v1M34.5 81v1M34.5 83v1M34.5 85v1M34.5 87v1M34.5 89v3M34.5 93v1M34.5 95v3M34.5 99v1M34.5 101v1M34.5 103v2M34.5 107v5M34.5 113v1M34.5 115v1M34.5 117v1M34.5 119v1M34.5 121v1M34.5 123v1M34.5 125v1M34.5 127v3M34.5 131v3M34.5 135v1M34.5 137v3M34.5 141v3M34.5 145v3M34.5 152v2M34.5 155v1M34.5 157v1M34.5 159v1M34.5 161v1M34.5 163v1M34.5 165v1M34.5 167v1M34.5 169v1M35.5 1v1M35.5 15v1M35.5 17v1M35.5 28v1M35.5 38v1M35.5 49v1M35.5 51v2M35.5 58v2M35.5 71v1M35.5 79v1M35.5 83v1M35.5 85v1M35.5 92v1M35.5 103v2M35.5 113v1M35.5 122v2M35.5 127v1M35.5 134v1M35.5 137v1M35.5 145v1M35.5 147v1M35.5 154v1M35.5 164v2M36.5 0v1M36.5 2v1M36.5 6v1M36.5 8v1M36.5 10v3M36.5 14v2M36.5 18v1M36.5 20v1M36.5 22v1M36.5 24v1M36.5 26v1M36.5 32v1M36.5 34v1M36.5 36v1M36.5 38v1M36.5 40v1M36.5 42v1M36.5 44v1M36.5 46v1M36.5 48v1M36.5 50v1M36.5 53v3M36.5 57v1M36.5 59v1M36.5 61v1M36.5 63v1M36.5 65v1M36.5 67v1M36.5 69v1M36.5 71v3M36.5 75v1M36.5 77v3M36.5 82v3M36.5 86v1M36.5 88v1M36.5 90v1M36.5 94v1M36.5 96v1M36.5 98v1M36.5 100v1M36.5 102v1M36.5 104v1M36.5 106v3M36.5 110v1M36.5 112v3M36.5 118v2M36.5 121v1M36.5 123v1M36.5 125v1M36.5 127v3M36.5 131v1M36.5 133v1M36.5 135v1M36.5 137v4M36.5 144v3M36.5 148v3M36.5 152v1M36.5 154v1M36.5 156v1M36.5 159v3M36.5 164v1M36.5 166v4M37.5 5v1M37.5 11v1M37.5 13v2M37.5 16v1M37.5 21v1M37.5 24v1M37.5 54v2M37.5 58v1M37.5 64v1M37.5 67v1M37.5 73v1M37.5 96v1M37.5 100v1M37.5 104v1M37.5 113v1M37.5 119v1M37.5 122v1M37.5 125v1M37.5 134v1M37.5 140v1M37.5 148v1M37.5 161v1M37.5 163v1M37.5 167v1M38.5 0v3M38.5 4v11M38.5 17v16M38.5 34v4M38.5 39v21M38.5 61v8M38.5 70v1M38.5 72v2M38.5 75v1M38.5 77v19M38.5 97v6M38.5 104v4M38.5 110v5M38.5 116v16M38.5 134v29M38.5 164v1M38.5 166v4M39.5 23v1M39.5 27v1M39.5 31v1M39.5 63v1M39.5 68v2M39.5 71v1M39.5 74v1M39.5 85v1M39.5 88v1M39.5 93v1M39.5 97v1M39.5 115v1M39.5 125v1M39.5 127v2M39.5 131v1M39.5 143v1M39.5 150v1M39.5 156v1M39.5 158v1M39.5 161v1M40.5 0v1M40.5 2v1M40.5 4v1M40.5 6v1M40.5 8v1M40.5 10v1M40.5 12v1M40.5 14v1M40.5 16v1M40.5 18v1M40.5 20v1M40.5 24v1M40.5 26v1M40.5 28v1M40.5 30v1M40.5 32v1M40.5 34v1M40.5 36v1M40.5 38v1M40.5 40v1M40.5 42v1M40.5 44v1M40.5 46v1M40.5 50v1M40.5 52v1M40.5 54v1M40.5 56v1M40.5 58v1M40.5 60v1M40.5 62v1M40.5 64v3M40.5 68v1M40.5 70v1M40.5 72v1M40.5 74v1M40.5 76v1M40.5 78v1M40.5 80v1M40.5 82v1M40.5 84v1M40.5 86v1M40.5 88v3M40.5 92v1M40.5 94v1M40.5 96v3M40.5 102v2M40.5 107v1M40.5 109v1M40.5 111v1M40.5 115v1M40.5 117v1M40.5 119v3M40.5 123v1M40.5 125v3M40.5 129v1M40.5 133v1M40.5 135v1M40.5 138v2M40.5 141v1M40.5 143v1M40.5 145v1M40.5 148v1M40.5 150v1M40.5 152v2M40.5 155v1M40.5 157v1M40.5 159v1M40.5 161v1M40.5 163v1M40.5 165v1M40.5 167v1M40.5 169v1M41.5 3v2M41.5 15v1M41.5 19v1M41.5 21v1M41.5 27v2M41.5 42v1M41.5 44v1M41.5 51v1M41.5 57v1M41.5 61v1M41.5 71v1M41.5 79v1M41.5 89v1M41.5 110v1M41.5 120v1M41.5 128v1M41.5 132v1M41.5 139v1M41.5 144v1M41.5 150v1M41.5 163v1M42.5 1v1M42.5 3v1M42.5 7v3M42.5 13v1M42.5 15v1M42.5 17v1M42.5 19v1M42.5 21v1M42.5 23v1M42.5 25v3M42.5 29v1M42.5 31v1M42.5 33v1M42.5 37v1M42.5 39v1M42.5 41v3M42.5 45v1M42.5 47v3M42.5 51v1M42.5 55v1M42.5 57v1M42.5 59v3M42.5 63v1M42.5 65v1M42.5 67v1M42.5 69v1M42.5 71v1M42.5 73v1M42.5 75v1M42.5 77v1M42.5 79v1M42.5 81v1M42.5 83v1M42.5 85v1M42.5 87v3M42.5 91v1M42.5 95v1M42.5 97v1M42.5 99v1M42.5 101v1M42.5 103v1M42.5 107v1M42.5 109v3M42.5 115v3M42.5 121v1M42.5 123v1M42.5 125v1M42.5 127v1M42.5 129v1M42.5 131v1M42.5 133v1M42.5 135v1M42.5 137v1M42.5 141v1M42.5 143v3M42.5 147v1M42.5 149v1M42.5 153v1M42.5 155v1M42.5 157v1M42.5 159v1M42.5 161v1M42.5 163v1M42.5 167v1M42.5 169v1M43.5 9v1M43.5 14v1M43.5 21v1M43.5 30v1M43.5 44v2M43.5 47v1M43.5 54v1M43.5 56v1M43.5 62v1M43.5 86v1M43.5 95v1M43.5 99v1M43.5 101v1M43.5 105v1M43.5 107v1M43.5 111v1M43.5 115v2M43.5 120v1M43.5 128v1M43.5 137v2M43.5 140v1M43.5 145v1M43.5 147v2M43.5 150v2M43.5 153v1M43.5 164v1M44.5 0v2M44.5 3v6M44.5 10v2M44.5 13v15M44.5 29v10M44.5 40v6M44.5 47v8M44.5 56v44M44.5 102v12M44.5 115v17M44.5 133v2M44.5 137v9M44.5 147v6M44.5 154v15" stroke="#000" stroke-width="1" fill="none" shape-rendering="crispEdges"/></pattern>
<linearGradient id="fade" x1="0" y1="0" x2="0" y2="1"><stop offset="0" stop-color="#fff" stop-opacity="0"/><stop offset="0.62" stop-color="#fff" stop-opacity="0"/><stop offset="1" stop-color="#fff" stop-opacity="0.42"/></linearGradient>
</defs>
<!-- Fig 3 -->
<rect x="293" y="156" width="39" height="156" fill="url(#st3)"/>
<rect x="428" y="146" width="37" height="166" fill="url(#st3)"/>
<path d="M292.7 312V155.6" stroke="#000" stroke-width="1.6" fill="none"/>
<path d="M292 155.9H332.3V312" stroke="#222" stroke-width="1.1" fill="none"/>
<path d="M427.6 312V145.6" stroke="#000" stroke-width="1.4" fill="none"/>
<path d="M427 145.9H465.3V312" stroke="#222" stroke-width="1.1" fill="none"/>
<rect x="332.3" y="300.3" width="37.5" height="11.8" fill="#000"/>
<path d="M267.9 141.6V176" stroke="#000" stroke-width="1.7" fill="none"/>
<path d="M267.8 176V196" stroke="#000" stroke-width="1.3" stroke-dasharray="3 1" fill="none"/>
<path d="M267.8 196V316.2" stroke="#111" stroke-width="1.05" fill="none"/>
<path d="M264 312H281" stroke="#000" stroke-width="1.7" fill="none"/>
<path d="M264 312H531.6" stroke="#000" stroke-width="1.15" fill="none"/>
<path d="M531.2 312V317" stroke="#000" stroke-width="1" fill="none"/>
<text x="252.6" y="316.70" text-anchor="end" class="ax">0%</text>
<path d="M267.5 278.46H272" stroke="#000" stroke-width="1" fill="none"/>
<text x="252.6" y="283.16" text-anchor="end" class="ax">20%</text>
<path d="M267.5 244.92H272" stroke="#000" stroke-width="1" fill="none"/>
<text x="252.6" y="249.62" text-anchor="end" class="ax">40%</text>
<path d="M267.5 211.38H272" stroke="#000" stroke-width="1" fill="none"/>
<text x="252.6" y="216.08" text-anchor="end" class="ax">60%</text>
<path d="M267.5 177.84H272" stroke="#000" stroke-width="1" fill="none"/>
<text x="252.6" y="182.54" text-anchor="end" class="ax">80%</text>
<path d="M267.5 144.30H272" stroke="#000" stroke-width="1" fill="none"/>
<text x="252.6" y="149.00" text-anchor="end" class="ax">100%</text>
<text x="312.9" y="141.9" text-anchor="middle" class="val">92.9</text>
<text x="445.8" y="141.1" text-anchor="middle" class="val">100.0</text>
<text x="351.3" y="295" text-anchor="middle" class="val">7.1</text>
<text x="330.4" y="337" text-anchor="middle" class="cat">Untreated controls</text>
<text x="471.5" y="337.4" text-anchor="middle" class="cat">Treated</text>
<text x="553.7" y="177.3" text-anchor="middle" class="lt">Disk position in</text>
<text x="553.7" y="192" text-anchor="middle" class="lt">closed mouth at T<tspan dy="2.5" font-size="8">1</tspan></text>
<rect x="487" y="204" width="15" height="12" fill="url(#st3)"/>
<rect x="487.3" y="204.2" width="15" height="11.5" fill="#000" fill-opacity="0.12" stroke="#333" stroke-width="0.8"/>
<rect x="487" y="230" width="17" height="17" fill="#000"/>
<text x="517" y="215" class="li">Superior</text>
<text x="513.2" y="242.6" class="li">Partial anterior</text>
<text x="513.2" y="255.2" class="li">medial displacement</text>
<text x="250" y="366.8" class="fn">&#967;<tspan dy="-3" font-size="6.5">2</tspan><tspan dy="3"> at 5% significance level - n.s.</tspan></text>
<text x="250" y="380.1" class="fn">&#967;<tspan dy="-3" font-size="6.5">2</tspan><tspan dy="3">= 2.33, critical value = 3.84</tspan></text>
<!-- Fig 4 -->
<rect x="287.6" y="491.8" width="37" height="152.5" fill="url(#hatch)" stroke="#000" stroke-width="1.3"/>
<rect x="431.6" y="480.6" width="37.6" height="163.8" fill="url(#hatch2)"/><path d="M431.8 644.4V480.2" stroke="#000" stroke-width="1.7" fill="none"/><path d="M431 480.7H469.3" stroke="#000" stroke-width="1.1" fill="none"/><path d="M469.2 480.5V644.4" stroke="#555" stroke-width="1" fill="none"/>
<rect x="324.5" y="640.8" width="36.6" height="3.6" fill="#000"/>
<rect x="361.5" y="635" width="36.3" height="9.3" fill="url(#dots)" stroke="#000" stroke-width="1.2"/>
<path d="M360.9 635.2H398.4" stroke="#000" stroke-width="2.1"/>
<path d="M270.6 480V648" stroke="#000" stroke-width="1.5" fill="none"/>
<path d="M266 644.6H560" stroke="#000" stroke-width="1.3" fill="none"/>
<path d="M559.6 644V648.5" stroke="#000" stroke-width="1.2" fill="none"/>
<path d="M416 644V647" stroke="#000" stroke-width="1" fill="none"/>
<path d="M266 644.50H270.6" stroke="#000" stroke-width="1.1" fill="none"/>
<text x="257.3" y="649.10" text-anchor="end" class="ax2">0%</text>
<path d="M266 611.70H270.6" stroke="#000" stroke-width="1.1" fill="none"/>
<text x="257.3" y="616.30" text-anchor="end" class="ax2">20%</text>
<path d="M266 578.90H270.6" stroke="#000" stroke-width="1.1" fill="none"/>
<text x="257.3" y="583.50" text-anchor="end" class="ax2">40%</text>
<path d="M266 546.10H270.6" stroke="#000" stroke-width="1.1" fill="none"/>
<text x="257.3" y="550.70" text-anchor="end" class="ax2">60%</text>
<path d="M266 513.30H270.6" stroke="#000" stroke-width="1.1" fill="none"/>
<text x="257.3" y="517.90" text-anchor="end" class="ax2">80%</text>
<path d="M266 480.50H270.6" stroke="#000" stroke-width="1.1" fill="none"/>
<text x="257.3" y="485.10" text-anchor="end" class="ax2">100%</text>
<text x="304" y="478.8" text-anchor="middle" class="val2">92.9</text>
<text x="452.3" y="476" text-anchor="middle" class="val2">100.0</text>
<text x="342" y="635" text-anchor="middle" class="val2">1.8</text>
<text x="380.6" y="630" text-anchor="middle" class="val2">5.3</text>
<text x="340.2" y="666.3" text-anchor="middle" class="cat2">Untreated controls</text>
<text x="451.2" y="666.3" text-anchor="middle" class="cat2" letter-spacing="0.25">Treated</text>
<text x="547.5" y="506" text-anchor="middle" class="lt2">Disk position in</text>
<text x="500.5" y="520.8" class="lt2" letter-spacing="0.25">open mouth at T<tspan dy="2.5" font-size="7.5">1</tspan></text>
<rect x="486.6" y="538.4" width="15.6" height="18" fill="url(#hatch)" stroke="#000" stroke-width="1.1"/>
<rect x="486.3" y="565" width="15.8" height="16.8" fill="#000"/>
<rect x="486.9" y="598.2" width="15.6" height="16.5" fill="url(#dots)" stroke="#000" stroke-width="1.2"/><path d="M486.3 598.5H503.1" stroke="#000" stroke-width="2"/>
<text x="511.3" y="550" class="li2">Interposed</text>
<text x="509.5" y="567.3" class="li2">Displacement with</text>
<text x="509.5" y="579" class="li2">reduction</text>
<text x="509.5" y="600.5" class="li2">Displacement without</text>
<text x="509.5" y="612" class="li2">reduction</text>
<!-- Fig 5 -->
<rect x="294" y="776" width="37" height="156" fill="url(#st5)"/>
<rect x="429" y="766" width="35" height="166" fill="url(#st5)"/>
<rect x="294" y="776" width="37" height="156" fill="url(#fade)"/>
<rect x="429" y="766" width="35" height="166" fill="url(#fade)"/>
<rect x="429" y="766" width="35" height="166" fill="#fff" fill-opacity="0.1"/>
<rect x="429" y="766" width="13" height="166" fill="#fff" fill-opacity="0.15"/>
<path d="M292.7 932V775.6" stroke="#000" stroke-width="1.15" fill="none"/>
<path d="M292 775.9H332.3V932" stroke="#222" stroke-width="1.1" fill="none"/>
<path d="M427.6 932V765.6" stroke="#000" stroke-width="1.15" fill="none"/>
<path d="M427 765.9H465.3V932" stroke="#222" stroke-width="1.1" fill="none"/>
<rect x="332.3" y="920.3" width="37.5" height="11.8" fill="#000"/>
<path d="M267.8 761.6V936.6" stroke="#222" stroke-width="1.05" fill="none"/>
<path d="M267.6 851V898" stroke="#000" stroke-width="1.6" fill="none"/>
<path d="M264 932H531.6" stroke="#000" stroke-width="1.15" fill="none"/>
<path d="M531.2 932V937" stroke="#000" stroke-width="1" fill="none"/>
<text x="252.6" y="936.70" text-anchor="end" class="ax">0%</text>
<path d="M267.5 898.46H272" stroke="#000" stroke-width="1" fill="none"/>
<text x="252.6" y="903.16" text-anchor="end" class="ax">20%</text>
<path d="M267.5 864.92H272" stroke="#000" stroke-width="1" fill="none"/>
<text x="252.6" y="869.62" text-anchor="end" class="ax">40%</text>
<path d="M267.5 831.38H272" stroke="#000" stroke-width="1" fill="none"/>
<text x="252.6" y="836.08" text-anchor="end" class="ax">60%</text>
<path d="M267.5 797.84H272" stroke="#000" stroke-width="1" fill="none"/>
<text x="252.6" y="802.54" text-anchor="end" class="ax">80%</text>
<path d="M267.5 764.30H272" stroke="#000" stroke-width="1" fill="none"/>
<text x="252.6" y="769.00" text-anchor="end" class="ax">100%</text>
<text x="312.9" y="761.9" text-anchor="middle" class="val">92.9</text>
<text x="445.8" y="761.1" text-anchor="middle" class="val">100.0</text>
<text x="351.3" y="915" text-anchor="middle" class="val">7.1</text>
<text x="330.4" y="957" text-anchor="middle" class="cat">Untreated controls</text>
<text x="471.5" y="957.4" text-anchor="middle" class="cat">Treated</text>
<text x="553.7" y="797.3" text-anchor="middle" class="lt">Disk position in</text>
<text x="553.7" y="812" text-anchor="middle" class="lt">closed mouth at T<tspan dy="2.5" font-size="8">2</tspan></text>
<rect x="487" y="824" width="15" height="12" fill="url(#st3)"/>
<rect x="487.3" y="824.2" width="15" height="11.5" fill="#000" fill-opacity="0.12" stroke="#333" stroke-width="0.8"/>
<rect x="487" y="850" width="17" height="17" fill="#000"/>
<text x="517" y="835" class="li">Superior</text>
<text x="513.2" y="862.6" class="li">Partial anterior</text>
<text x="513.2" y="875.2" class="li">medial displacement</text>
<text x="250" y="986.8" class="fn">&#967;<tspan dy="-3" font-size="6.5">2</tspan><tspan dy="3"> at 5% significance level - n.s.</tspan></text>
<text x="250" y="1000.1" class="fn">&#967;<tspan dy="-3" font-size="6.5">2</tspan><tspan dy="3">= 2.33, critical value = 3.84</tspan></text>
</svg>

<div class="t cap" style="left:177.5px;top:399px;"><b>Fig 3.</b>Closed-mouth position of TMJ discs in treated and untreated groups at T1.</div>
<div class="t cap" style="left:182.2px;top:684.3px;"><b>Fig 4.</b>Open-mouth position of TMJ discs in treated and untreated groups at T1.</div>
<div class="t cap" style="left:177.5px;top:1020.3px;"><b>Fig 5.</b>Closed-mouth position of TMJ discs in treated and untreated groups at T2.</div>
</body></html>
